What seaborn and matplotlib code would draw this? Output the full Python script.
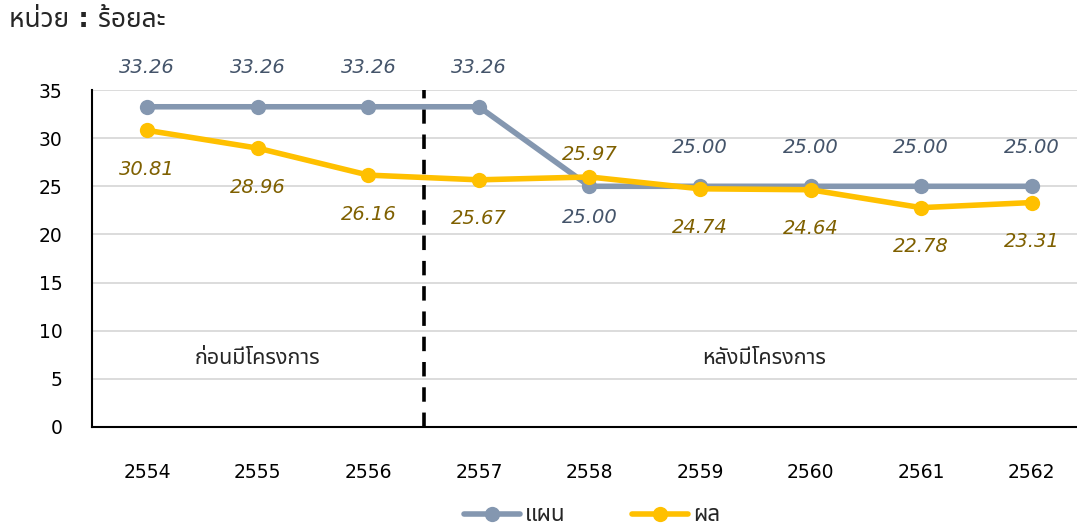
import pandas as pd
import matplotlib.pyplot as plt
import seaborn as sns

# data
years = ["2554", "2555", "2556", "2557", "2558", "2559", "2560", "2561", "2562"]
plan = [33.26, 33.26, 33.26, 33.26, 25.00, 25.00, 25.00, 25.00, 25.00]
result = [30.81, 28.96, 26.16, 25.67, 25.97, 24.74, 24.64, 22.78, 23.31]
series_names = ["แผน", "ผล"]
phase_labels = ["ก่อนมีโครงการ", "หลังมีโครงการ"]
unit_label = "หน่วย : ร้อยละ"

sns.set_theme(style="white")
plt.rcParams["font.family"] = ["DejaVu Sans", "Noto Sans Thai", "Noto Sans Thai Looped",
                               "Loma", "Garuda", "Tlwg Typo", "Noto Sans", "FreeSans"]

idx = list(range(len(years)))
df = pd.DataFrame({
    "x": idx * 2,
    "value": plan + result,
    "series": [series_names[0]] * len(years) + [series_names[1]] * len(years),
})

line_colors = {"แผน": "#8497B0", "ผล": "#FFC000"}
text_colors = {"แผน": "#44546A", "ผล": "#7F6000"}

fig = plt.figure(figsize=(10.77, 5.27), dpi=100)
ax = fig.add_axes([0.0854, 0.1898, 0.9146, 0.6394])

sns.lineplot(
    data=df, x="x", y="value", hue="series",
    palette=line_colors, marker="o", markersize=11,
    markeredgewidth=0, linewidth=4, ax=ax, legend=True,
)

ax.set_xlim(-0.5, 8.41)
ax.set_ylim(0, 35)
ax.set_yticks(range(0, 36, 5))
ax.set_xticks(idx)
ax.set_xticklabels(years)
ax.tick_params(axis="both", length=0, labelsize=13.5, colors="black")
ax.tick_params(axis="x", pad=26)
ax.tick_params(axis="y", pad=21)
ax.set_xlabel("")
ax.set_ylabel("")
ax.yaxis.grid(True, color="#D9D9D9", linewidth=1.3)
ax.set_axisbelow(True)
for side in ["top", "right"]:
    ax.spines[side].set_visible(False)
for side in ["left", "bottom"]:
    ax.spines[side].set_color("black")
    ax.spines[side].set_linewidth(1.5)

# divider between before / after project
ax.axvline(2.5, color="black", linestyle=(0, (4, 3)), linewidth=2.6, zorder=1)

ax.text(1.0, 7.2, phase_labels[0], ha="center", va="center", fontsize=15.5)
ax.text(5.58, 7.2, phase_labels[1], ha="center", va="center", fontsize=15.5)

# value labels
for i in idx:
    p, r = plan[i], result[i]
    p_off = 39 if p >= r else -31
    r_off = 22 if r > p else -39
    ax.annotate(f"{p:.2f}", (i, p), xytext=(0, p_off), textcoords="offset pixels",
                ha="center", va="center", fontsize=14, style="italic",
                color=text_colors["แผน"], annotation_clip=False)
    ax.annotate(f"{r:.2f}", (i, r), xytext=(0, r_off), textcoords="offset pixels",
                ha="center", va="center", fontsize=14, style="italic",
                color=text_colors["ผล"], annotation_clip=False)

fig.text(0.008, 0.962, unit_label, ha="left", va="center", fontsize=19, fontweight="bold")

handles, labels = ax.get_legend_handles_labels()
ax.get_legend().remove()
fig.legend(handles, labels, loc="center", bbox_to_anchor=(0.55, 0.022), ncol=2,
           frameon=False, fontsize=16, columnspacing=3.0, handlelength=2.5, handletextpad=0.25)

fig.savefig("out.png", dpi=100)
